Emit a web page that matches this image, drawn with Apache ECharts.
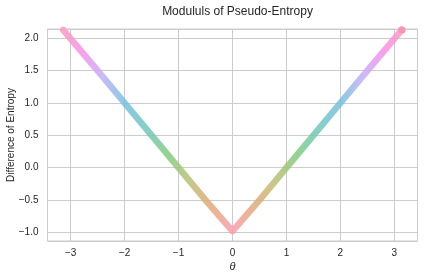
<!DOCTYPE html>
<html>
<head>
<meta charset="utf-8">
<script src="https://cdn.jsdelivr.net/npm/echarts@6/dist/echarts.min.js"></script>
<style>
html,body{margin:0;padding:0;background:#fff;}
#chart{width:424px;height:280px;}
</style>
</head>
<body>
<div id="chart"></div>
<script>
// Values
const thetaValues = [-3.14, -2.5, -2.0, -1.5, -1.0, -0.5, 0.0, 0.5, 1.0, 1.5, 2.0, 2.5, 3.14];
const entropyDiff = [2.13, 1.5, 1.0, 0.5, 0.0, -0.5, -0.98, -0.5, 0.0, 0.5, 1.0, 1.5, 2.13];
const xTickValues = [-3, -2, -1, 0, 1, 2, 3];
const yTickValues = [-1.0, -0.5, 0.0, 0.5, 1.0, 1.5, 2.0];

// hue colours (husl-like, blended with white) going outward from theta = 0
const hueColors = ['#f99cac', '#e3a978', '#bbbf73', '#80cc7e', '#72c6bf', '#74c1de', '#bfaff7', '#f890e7', '#f99cb8'];

const stops = [];
for (let k = hueColors.length - 1; k >= 0; k--) stops.push({offset: 0.5 - k / 16, color: hueColors[k]});
for (let k = 1; k < hueColors.length; k++) stops.push({offset: 0.5 + k / 16, color: hueColors[k]});

const pts = thetaValues.map((t, i) => [t, entropyDiff[i]]);
const last = pts[pts.length - 1];

const fmt = v => String(v).replace('-', '\u2212');

const chart = echarts.init(document.getElementById('chart'), null, {renderer: 'canvas'});
chart.setOption({
  animation: false,
  backgroundColor: '#ffffff',
  textStyle: {fontFamily: 'Liberation Sans, Arial, sans-serif'},
  title: {
    text: 'Modululs of Pseudo-Entropy',
    left: 232.5, top: 1, textAlign: 'center',
    textStyle: {fontSize: 12, fontWeight: 'normal', color: '#262626', fontFamily: 'Liberation Sans, Arial, sans-serif'}
  },
  grid: {left: 47.5, right: 6.5, top: 29, bottom: 39, show: true, borderColor: '#cccccc', borderWidth: 1,
         containLabel: false, outerBoundsMode: 'none'},
  xAxis: {
    type: 'value', min: -3.43, max: 3.43, minInterval: 1, maxInterval: 1,
    name: '\u03b8', nameLocation: 'middle', nameGap: 20, nameMoveOverlap: false,
    nameTextStyle: {fontSize: 11, fontStyle: 'italic', color: '#262626'},
    axisLine: {show: false}, axisTick: {show: false},
    axisLabel: {
      fontSize: 10, color: '#262626', margin: 7, showMinLabel: false, showMaxLabel: false,
      formatter: v => xTickValues.includes(v) ? fmt(v) : ''
    },
    splitLine: {show: true, lineStyle: {color: '#cccccc', width: 1}}
  },
  yAxis: {
    type: 'value', min: -1.133, max: 2.144, minInterval: 0.5, maxInterval: 0.5,
    name: 'Difference of Entropy', nameLocation: 'middle', nameGap: 31, nameMoveOverlap: false,
    nameTextStyle: {fontSize: 10, color: '#262626'},
    axisLine: {show: false}, axisTick: {show: false},
    axisLabel: {
      fontSize: 10, color: '#262626', margin: 9, showMinLabel: false, showMaxLabel: false,
      formatter: v => yTickValues.some(t => Math.abs(t - v) < 1e-9) ? fmt(v.toFixed(1)) : ''
    },
    splitLine: {show: true, lineStyle: {color: '#cccccc', width: 1}}
  },
  series: [
    {
      type: 'line', data: pts, symbol: 'none', silent: true,
      lineStyle: {width: 6.5, cap: 'round', join: 'round', opacity: 0.85,
                  color: new echarts.graphic.LinearGradient(0, 0, 1, 0, stops)}
    },
    {
      type: 'scatter', data: [last], symbolSize: 7, silent: true,
      itemStyle: {color: '#f46a84', opacity: 0.95}
    }
  ]
});
</script>
</body>
</html>
